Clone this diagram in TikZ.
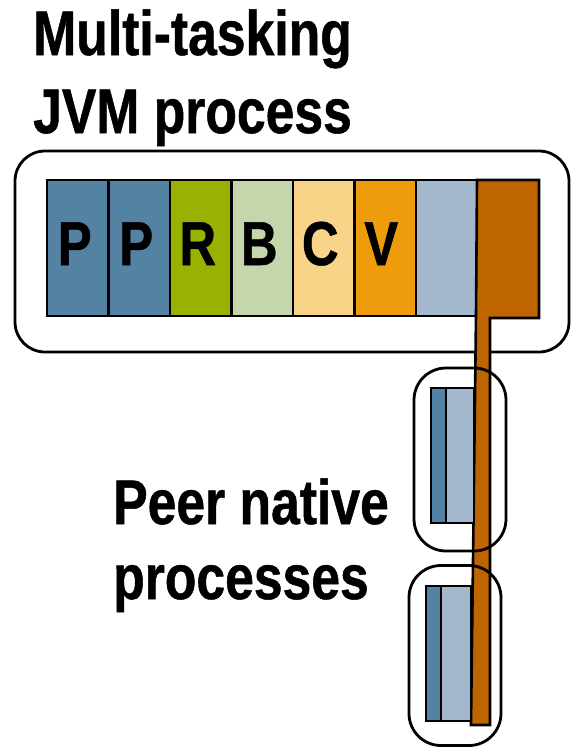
\documentclass[tikz,border=0pt]{standalone}
\usepackage{fontspec}
\setmainfont{Liberation Sans}[FakeStretch=0.82,BoldFeatures={FakeBold=0.8}]
\definecolor{pblue}{HTML}{5482A3}
\definecolor{rgreen}{HTML}{99B100}
\definecolor{bgreen}{HTML}{C5D6AC}
\definecolor{cyellow}{HTML}{F7D488}
\definecolor{vorange}{HTML}{EE9C0C}
\definecolor{lblue}{HTML}{A4B8CD}
\definecolor{rust}{HTML}{BF6500}
\begin{document}
\begin{tikzpicture}[x=1pt,y=-1pt,line join=miter,
  frame/.style={draw=black,line width=2.8pt,rounded corners=#1,inner sep=0pt,outer sep=0pt},
  slot/.style={draw=black,line width=2.6pt,fill=#1,minimum width=61.5pt,minimum height=136pt,inner sep=0pt,outer sep=0pt},
  bar/.style={draw=black,line width=2.6pt,fill=#1},
  lbl/.style={font=\fontsize{63}{63}\selectfont\bfseries,inner sep=0pt,anchor=base west},
  letter/.style={font=\fontsize{62}{62}\selectfont\bfseries,inner sep=0pt,anchor=base}]
\useasboundingbox (0,0) rectangle (572,748);

% multi-tasking JVM process frame
\node[frame=30pt,minimum width=554pt,minimum height=201pt] (jvm) at (292,251.5) {};

% task slots
\node[slot=pblue]   (s1) at (77.75,248) {};
\node[slot=pblue]   (s2) at (139.25,248) {};
\node[slot=rgreen]  (s3) at (200.75,248) {};
\node[slot=bgreen]  (s4) at (262.25,248) {};
\node[slot=cyellow] (s5) at (323.75,248) {};
\node[slot=vorange] (s6) at (385.25,248) {};
\node[slot=lblue]   (s7) at (446.75,248) {};

% last slot with its stem reaching the native processes
\draw[bar=rust] (477,180) -- (539,180) -- (539,318) -- (490,318) -- (490,725)
  -- (471,725) -- (476,316) -- cycle;

\node[letter] (l1) at (74.75,265) {P};
\node[letter] (l2) at (136.25,265) {P};
\node[letter] (l3) at (197.75,265) {R};
\node[letter] (l4) at (259.25,265) {B};
\node[letter] (l5) at (320.25,265) {C};
\node[letter] (l6) at (381.25,265) {V};

% peer native processes
\draw[bar=pblue] (431,388) rectangle (446,523);
\draw[bar=lblue] (446,388) rectangle (474,523);
\draw[bar=pblue] (426,586) rectangle (441,721);
\draw[bar=lblue] (441,586) rectangle (471,721);

\node[frame=32pt,minimum width=92pt,minimum height=183pt] (np1) at (460,459.5) {};
\node[frame=32pt,minimum width=92pt,minimum height=180pt] (np2) at (455,655.5) {};

% captions
\node[lbl] (t1) at (33,55) {Multi-tasking};
\node[lbl] (t2) at (33,133) {JVM process};
\node[lbl] (t3) at (113,524) {Peer native};
\node[lbl] (t4) at (113,599) {processes};
\end{tikzpicture}
\end{document}
